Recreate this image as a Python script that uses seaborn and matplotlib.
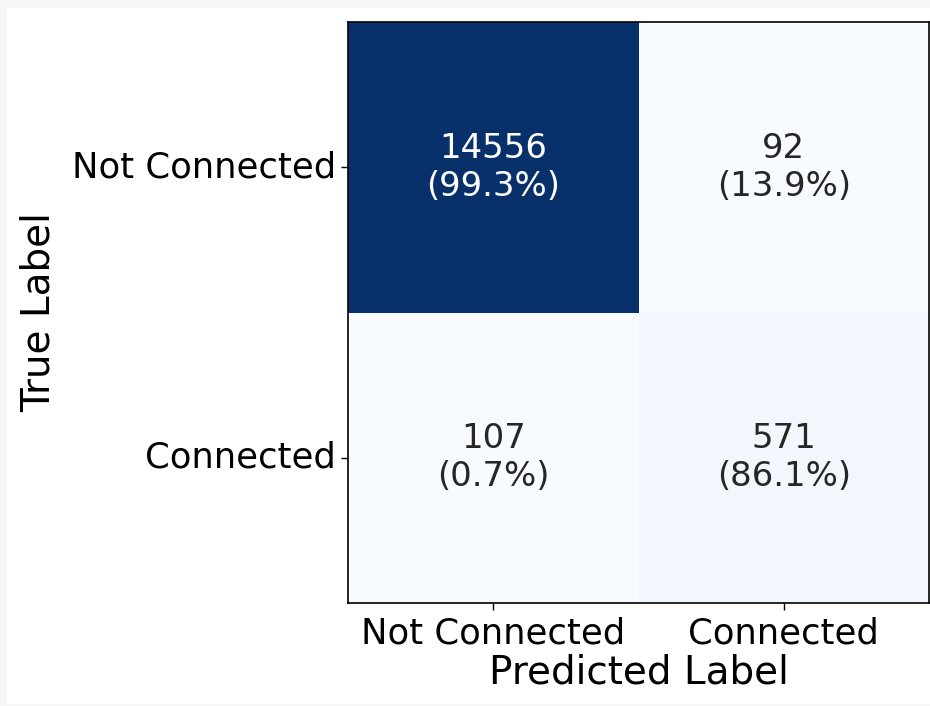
import matplotlib
matplotlib.use("Agg")
import matplotlib.pyplot as plt
import numpy as np
import seaborn as sns

# confusion matrix values (rows = true, cols = predicted)
class_names = ["Not Connected", "Connected"]
row_not_connected = [14556, 92]
row_connected = [107, 571]

cm = np.array([row_not_connected, row_connected])
col_pct = cm / cm.sum(axis=0, keepdims=True) * 100
annot = np.array([[f"{cm[i, j]}\n({col_pct[i, j]:.1f}%)" for j in range(2)] for i in range(2)])

fig = plt.figure(figsize=(9.3, 7.06), dpi=100, facecolor="#f7f7f7")
# white page area inside light grey frame
page = plt.Rectangle((7 / 930, 2 / 706), 1 - 7 / 930, 1 - 10 / 706,
                     transform=fig.transFigure, facecolor="white",
                     edgecolor="none", zorder=-10)
fig.add_artist(page)

ax = fig.add_axes([348 / 930, 1 - 603 / 706, 581 / 930, 581 / 706])
ax.set_zorder(5)
sns.heatmap(cm, annot=annot, fmt="", cmap="Blues", cbar=False,
            xticklabels=class_names, yticklabels=class_names,
            annot_kws={"fontsize": 24.4}, ax=ax)

for spine in ax.spines.values():
    spine.set_visible(True)
    spine.set_linewidth(1.2)
    spine.set_color("black")

ax.tick_params(axis="both", labelsize=25.5, length=5, width=1)
ax.tick_params(axis="x", pad=5)
ax.set_yticklabels(class_names, rotation=0, va="center")
ax.set_xticklabels(class_names, rotation=0)
ax.set_xlabel("Predicted Label", fontsize=28, labelpad=2)
ax.set_ylabel("True Label", fontsize=28, labelpad=10)

fig.savefig("out.png", dpi=100, facecolor=fig.get_facecolor())
